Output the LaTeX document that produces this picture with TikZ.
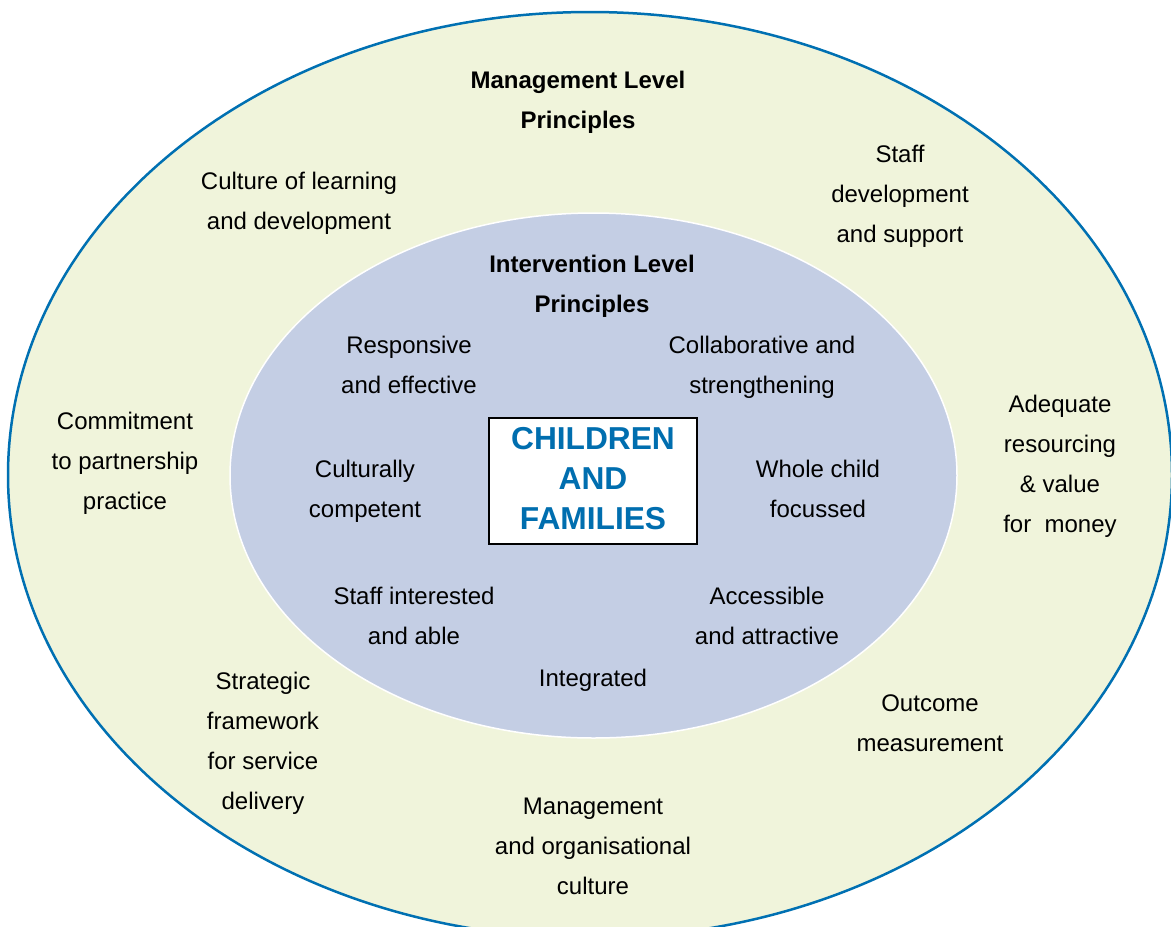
\documentclass[tikz,border=0pt]{standalone}
\usepackage{fontspec}
\setmainfont{Liberation Sans}
\definecolor{rimblue}{RGB}{0,112,178}
\definecolor{outerfill}{RGB}{240,244,219}
\definecolor{innerfill}{RGB}{196,206,228}
\definecolor{kidblue}{RGB}{0,110,175}
\begin{document}
\begin{tikzpicture}[x=1pt,y=1pt]
    \tikzset{principle/.style={align=center,inner sep=0pt,font=\fontsize{24}{40}\selectfont}}
    \tikzset{heading/.style={principle,font=\fontsize{24}{40}\selectfont\bfseries}}
    \useasboundingbox (0,0) rectangle (1171,-927);
    % outer ring: management level
    \draw[rimblue,line width=2.5pt,fill=outerfill] (590,-475) ellipse (582pt and 463pt);
    % inner ring: intervention level
    \draw[white,line width=1.5pt,fill=innerfill] (593.5,-475.5) ellipse (363.5pt and 262.5pt);
    \node[draw,line width=1.5pt,fill=white,minimum width=208pt,minimum height=126pt,
        text=kidblue,align=center,font=\fontsize{31.7}{40}\selectfont\bfseries]
        (kids) at (593,-481) {};
    \node[text=kidblue,align=center,inner sep=0pt,font=\fontsize{31.7}{40}\selectfont\bfseries]
        (kidstext) at (593,-479) {CHILDREN\\AND\\FAMILIES};
    \node[heading] (mgmthead) at (578,-102) {Management Level\\Principles};
    \node[principle] (culture) at (299,-203) {Culture of learning\\and development};
    \node[principle] (staffdev) at (900,-196) {Staff\\development\\and support};
    \node[principle] (partner) at (125,-463) {Commitment\\to partnership\\practice};
    \node[principle] (resource) at (1060,-466) {Adequate\\resourcing\\\& value\\for \ money};
    \node[principle] (strategy) at (263,-743) {Strategic\\framework\\for service\\delivery};
    \node[principle] (outcome) at (930,-723) {Outcome\\measurement};
    \node[principle] (orgcult) at (593,-846) {Management\\and organisational\\culture};
    \node[heading] (inthead) at (592,-286) {Intervention Level\\Principles};
    \node[principle] (respond) at (409,-365) {Responsive\\and effective};
    \node[principle] (collab) at (762,-367) {Collaborative and\\strengthening};
    \node[principle] (cultcomp) at (365,-491) {Culturally\\competent};
    \node[principle] (whole) at (818,-489) {Whole child\\focussed};
    \node[principle] (able) at (414,-616) {Staff interested\\and able};
    \node[principle] (access) at (767,-616) {Accessible\\and attractive};
    \node[principle] (integr) at (593,-680) {Integrated};
\end{tikzpicture}
\end{document}
